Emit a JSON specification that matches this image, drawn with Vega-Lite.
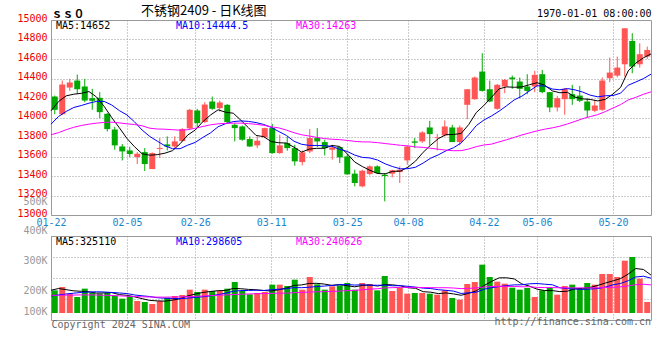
{
  "$schema": "https://vega.github.io/schema/vega-lite/v6.json",
  "padding": {"left": 16, "top": 4, "right": 6, "bottom": 6},
  "background": "white",
  "config": {
    "view": {"stroke": "#999999", "strokeWidth": 1},
    "font": "DejaVu Sans Mono",
    "axis": {"labelFont": "DejaVu Sans Mono", "labelFontSize": 10, "titleFont": "DejaVu Sans Mono", "titleFontSize": 10, "titleFontWeight": "normal", "gridColor": "#9a9a9a", "gridDash": [1, 2], "gridWidth": 1, "domain": false, "ticks": false, "tickSize": 0, "labelOverlap": false, "labelFlush": false},
    "legend": {"orient": "top-left", "direction": "horizontal", "title": null, "offset": 0, "padding": 1, "symbolSize": 0, "symbolStrokeWidth": 0, "symbolOpacity": 0, "labelFont": "DejaVu Sans Mono", "labelFontSize": 10, "labelOffset": -6, "gridAlign": "all", "labelLimit": 0}
  },
  "data": {"values": [
    {"date":"2024-01-22","open":14215,"high":14225,"low":14034,"close":14079,"volume":194300,"ma5":14069,"ma10":13932,"ma30":13823,"vma5":195000,"vma10":146000,"vma30":152000},
    {"date":"2024-01-23","open":14034,"high":14379,"low":14025,"close":14338,"volume":222800,"ma5":14164,"ma10":14011,"ma30":13845,"vma5":210000,"vma10":155000,"vma30":152000},
    {"date":"2024-01-24","open":14307,"high":14396,"low":14273,"close":14359,"volume":165700,"ma5":14222,"ma10":14062,"ma30":13875,"vma5":200000,"vma10":163000,"vma30":153000},
    {"date":"2024-01-25","open":14379,"high":14440,"low":14243,"close":14290,"volume":137100,"ma5":14239,"ma10":14103,"ma30":13900,"vma5":190000,"vma10":170000,"vma30":154000},
    {"date":"2024-01-26","open":14318,"high":14396,"low":14157,"close":14174,"volume":208600,"ma5":14248,"ma10":14123,"ma30":13918,"vma5":185700,"vma10":176000,"vma30":155000},
    {"date":"2024-01-29","open":14198,"high":14294,"low":14079,"close":14171,"volume":174300,"ma5":14266,"ma10":14147,"ma30":13932,"vma5":181700,"vma10":180000,"vma30":155000},
    {"date":"2024-01-30","open":14202,"high":14260,"low":13993,"close":14055,"volume":165700,"ma5":14210,"ma10":14165,"ma30":13942,"vma5":170300,"vma10":182000,"vma30":154000},
    {"date":"2024-01-31","open":14038,"high":14045,"low":13857,"close":13881,"volume":174300,"ma5":14114,"ma10":14165,"ma30":13950,"vma5":172000,"vma10":180000,"vma30":152000},
    {"date":"2024-02-01","open":13877,"high":13905,"low":13669,"close":13714,"volume":151400,"ma5":13999,"ma10":14128,"ma30":13952,"vma5":174900,"vma10":176000,"vma30":150000},
    {"date":"2024-02-02","open":13703,"high":13727,"low":13560,"close":13652,"volume":122900,"ma5":13895,"ma10":14071,"ma30":13945,"vma5":157700,"vma10":171700,"vma30":147000},
    {"date":"2024-02-05","open":13662,"high":13700,"low":13594,"close":13625,"volume":142900,"ma5":13785,"ma10":14026,"ma30":13935,"vma5":151400,"vma10":166600,"vma30":144000},
    {"date":"2024-02-06","open":13594,"high":13645,"low":13523,"close":13628,"volume":102900,"ma5":13700,"ma10":13955,"ma30":13928,"vma5":138900,"vma10":154600,"vma30":141000},
    {"date":"2024-02-07","open":13645,"high":13686,"low":13451,"close":13523,"volume":94300,"ma5":13628,"ma10":13871,"ma30":13915,"vma5":122900,"vma10":147400,"vma30":139000},
    {"date":"2024-02-08","open":13471,"high":13642,"low":13471,"close":13635,"volume":77100,"ma5":13613,"ma10":13806,"ma30":13890,"vma5":108000,"vma10":141400,"vma30":137000},
    {"date":"2024-02-19","open":13678,"high":13789,"low":13584,"close":13688,"volume":102900,"ma5":13619,"ma10":13757,"ma30":13882,"vma5":104000,"vma10":130900,"vma30":136000},
    {"date":"2024-02-20","open":13724,"high":13806,"low":13662,"close":13703,"volume":131400,"ma5":13634,"ma10":13710,"ma30":13880,"vma5":101700,"vma10":126600,"vma30":136000},
    {"date":"2024-02-21","open":13703,"high":13806,"low":13686,"close":13755,"volume":145700,"ma5":13660,"ma10":13680,"ma30":13875,"vma5":110300,"vma10":124600,"vma30":137000},
    {"date":"2024-02-22","open":13758,"high":13891,"low":13755,"close":13881,"volume":154300,"ma5":13731,"ma10":13680,"ma30":13870,"vma5":122300,"vma10":122600,"vma30":138000},
    {"date":"2024-02-23","open":13888,"high":14089,"low":13881,"close":14079,"volume":200000,"ma5":13820,"ma10":13716,"ma30":13875,"vma5":146900,"vma10":127400,"vma30":140000},
    {"date":"2024-02-26","open":14072,"high":14089,"low":13898,"close":13942,"volume":180000,"ma5":13872,"ma10":13745,"ma30":13890,"vma5":162300,"vma10":133200,"vma30":143000},
    {"date":"2024-02-27","open":13953,"high":14157,"low":13942,"close":14133,"volume":200000,"ma5":13958,"ma10":13796,"ma30":13908,"vma5":176000,"vma10":138900,"vma30":146000},
    {"date":"2024-02-28","open":14164,"high":14215,"low":14079,"close":14089,"volume":188600,"ma5":14025,"ma10":13842,"ma30":13925,"vma5":184600,"vma10":147400,"vma30":149000},
    {"date":"2024-02-29","open":14096,"high":14174,"low":14062,"close":14154,"volume":188600,"ma5":14079,"ma10":13905,"ma30":13935,"vma5":191400,"vma10":156900,"vma30":152000},
    {"date":"2024-03-01","open":14130,"high":14137,"low":13942,"close":13953,"volume":208600,"ma5":14054,"ma10":13937,"ma30":13940,"vma5":193200,"vma10":170000,"vma30":155000},
    {"date":"2024-03-04","open":13925,"high":13942,"low":13755,"close":13891,"volume":265700,"ma5":14044,"ma10":13958,"ma30":13942,"vma5":210300,"vma10":186300,"vma30":158000},
    {"date":"2024-03-05","open":13908,"high":13918,"low":13762,"close":13772,"volume":188600,"ma5":13972,"ma10":13965,"ma30":13942,"vma5":208000,"vma10":192000,"vma30":161000},
    {"date":"2024-03-06","open":13779,"high":13806,"low":13697,"close":13703,"volume":160000,"ma5":13895,"ma10":13960,"ma30":13937,"vma5":202300,"vma10":193400,"vma30":163000},
    {"date":"2024-03-07","open":13714,"high":13806,"low":13686,"close":13762,"volume":171400,"ma5":13816,"ma10":13948,"ma30":13930,"vma5":198900,"vma10":195200,"vma30":165000},
    {"date":"2024-03-08","open":13796,"high":13895,"low":13789,"close":13891,"volume":180000,"ma5":13804,"ma10":13929,"ma30":13920,"vma5":193100,"vma10":193200,"vma30":167000},
    {"date":"2024-03-11","open":13891,"high":13935,"low":13628,"close":13635,"volume":242900,"ma5":13753,"ma10":13898,"ma30":13905,"vma5":188600,"vma10":199400,"vma30":168100},
    {"date":"2024-03-12","open":13635,"high":13823,"low":13628,"close":13714,"volume":242900,"ma5":13741,"ma10":13856,"ma30":13893,"vma5":199400,"vma10":203700,"vma30":169700},
    {"date":"2024-03-13","open":13738,"high":13806,"low":13659,"close":13686,"volume":231400,"ma5":13738,"ma10":13816,"ma30":13871,"vma5":213700,"vma10":208000,"vma30":170000},
    {"date":"2024-03-14","open":13686,"high":13720,"low":13506,"close":13550,"volume":285700,"ma5":13695,"ma10":13756,"ma30":13844,"vma5":236600,"vma10":217700,"vma30":174000},
    {"date":"2024-03-15","open":13543,"high":13662,"low":13509,"close":13642,"volume":200000,"ma5":13645,"ma10":13725,"ma30":13823,"vma5":240600,"vma10":216900,"vma30":176100},
    {"date":"2024-03-18","open":13652,"high":13881,"low":13635,"close":13789,"volume":308600,"ma5":13676,"ma10":13714,"ma30":13810,"vma5":253700,"vma10":221200,"vma30":179400},
    {"date":"2024-03-19","open":13789,"high":13891,"low":13697,"close":13755,"volume":245700,"ma5":13684,"ma10":13713,"ma30":13796,"vma5":254300,"vma10":226900,"vma30":181800},
    {"date":"2024-03-20","open":13748,"high":13772,"low":13611,"close":13686,"volume":200000,"ma5":13684,"ma10":13711,"ma30":13784,"vma5":248000,"vma10":230900,"vma30":183000},
    {"date":"2024-03-21","open":13669,"high":13720,"low":13567,"close":13693,"volume":228600,"ma5":13713,"ma10":13704,"ma30":13777,"vma5":236600,"vma10":236600,"vma30":184800},
    {"date":"2024-03-22","open":13697,"high":13703,"low":13533,"close":13591,"volume":237100,"ma5":13703,"ma10":13674,"ma30":13773,"vma5":244000,"vma10":242300,"vma30":187600},
    {"date":"2024-03-25","open":13601,"high":13625,"low":13413,"close":13417,"volume":257100,"ma5":13628,"ma10":13652,"ma30":13765,"vma5":233700,"vma10":243700,"vma30":192100},
    {"date":"2024-03-26","open":13424,"high":13465,"low":13294,"close":13328,"volume":200000,"ma5":13543,"ma10":13614,"ma30":13755,"vma5":224600,"vma10":239400,"vma30":194000},
    {"date":"2024-03-27","open":13294,"high":13465,"low":13284,"close":13454,"volume":257100,"ma5":13497,"ma10":13591,"ma30":13750,"vma5":236000,"vma10":242000,"vma30":199100},
    {"date":"2024-03-28","open":13420,"high":13509,"low":13407,"close":13499,"volume":248600,"ma5":13458,"ma10":13585,"ma30":13749,"vma5":240000,"vma10":238300,"vma30":204300},
    {"date":"2024-03-29","open":13499,"high":13509,"low":13420,"close":13430,"volume":194300,"ma5":13426,"ma10":13564,"ma30":13742,"vma5":231400,"vma10":237700,"vma30":208200},
    {"date":"2024-04-01","open":13413,"high":13430,"low":13140,"close":13400,"volume":317100,"ma5":13422,"ma10":13525,"ma30":13733,"vma5":243400,"vma10":238600,"vma30":215300},
    {"date":"2024-04-02","open":13424,"high":13465,"low":13386,"close":13458,"volume":188600,"ma5":13448,"ma10":13496,"ma30":13724,"vma5":241100,"vma10":232900,"vma30":217200},
    {"date":"2024-04-03","open":13441,"high":13499,"low":13328,"close":13465,"volume":217100,"ma5":13450,"ma10":13474,"ma30":13715,"vma5":233100,"vma10":234600,"vma30":219600},
    {"date":"2024-04-08","open":13560,"high":13710,"low":13516,"close":13703,"volume":165700,"ma5":13491,"ma10":13475,"ma30":13709,"vma5":216600,"vma10":228300,"vma30":220000},
    {"date":"2024-04-09","open":13755,"high":13789,"low":13686,"close":13741,"volume":171400,"ma5":13553,"ma10":13490,"ma30":13698,"vma5":212000,"vma10":221700,"vma30":219000},
    {"date":"2024-04-10","open":13755,"high":13860,"low":13740,"close":13847,"volume":171400,"ma5":13643,"ma10":13533,"ma30":13694,"vma5":182800,"vma10":213100,"vma30":218800},
    {"date":"2024-04-11","open":13898,"high":13966,"low":13714,"close":13830,"volume":165700,"ma5":13717,"ma10":13583,"ma30":13684,"vma5":178300,"vma10":209700,"vma30":217600},
    {"date":"2024-04-12","open":13789,"high":13830,"low":13662,"close":13796,"volume":157100,"ma5":13783,"ma10":13617,"ma30":13675,"vma5":166300,"vma10":199700,"vma30":216600},
    {"date":"2024-04-15","open":13816,"high":13970,"low":13806,"close":13908,"volume":194300,"ma5":13824,"ma10":13658,"ma30":13666,"vma5":172000,"vma10":194300,"vma30":216800},
    {"date":"2024-04-16","open":13898,"high":13925,"low":13748,"close":13748,"volume":128600,"ma5":13826,"ma10":13690,"ma30":13659,"vma5":163400,"vma10":187700,"vma30":214100},
    {"date":"2024-04-17","open":13748,"high":13918,"low":13714,"close":13898,"volume":114300,"ma5":13836,"ma10":13739,"ma30":13660,"vma5":152000,"vma10":167400,"vma30":209000},
    {"date":"2024-04-18","open":14130,"high":14290,"low":13983,"close":14290,"volume":248600,"ma5":13928,"ma10":13823,"ma30":13677,"vma5":168600,"vma10":173400,"vma30":211000},
    {"date":"2024-04-19","open":14188,"high":14420,"low":14181,"close":14410,"volume":265700,"ma5":14051,"ma10":13917,"ma30":13701,"vma5":190300,"vma10":178300,"vma30":214600},
    {"date":"2024-04-22","open":14471,"high":14659,"low":14266,"close":14273,"volume":414300,"ma5":14124,"ma10":13974,"ma30":13718,"vma5":234300,"vma10":203100,"vma30":222700},
    {"date":"2024-04-23","open":14290,"high":14379,"low":14157,"close":14164,"volume":308600,"ma5":14207,"ma10":14016,"ma30":13727,"vma5":270300,"vma10":216900,"vma30":227000},
    {"date":"2024-04-24","open":14089,"high":14345,"low":14079,"close":14335,"volume":268600,"ma5":14294,"ma10":14065,"ma30":13750,"vma5":301200,"vma10":226600,"vma30":227800},
    {"date":"2024-04-25","open":14318,"high":14396,"low":14249,"close":14386,"volume":251400,"ma5":14314,"ma10":14121,"ma30":13772,"vma5":301700,"vma10":235200,"vma30":228100},
    {"date":"2024-04-26","open":14410,"high":14430,"low":14294,"close":14393,"volume":217100,"ma5":14310,"ma10":14181,"ma30":13796,"vma5":292000,"vma10":241200,"vma30":227600},
    {"date":"2024-04-29","open":14369,"high":14410,"low":14198,"close":14294,"volume":200000,"ma5":14314,"ma10":14219,"ma30":13821,"vma5":249100,"vma10":241700,"vma30":224800},
    {"date":"2024-04-30","open":14318,"high":14444,"low":14239,"close":14273,"volume":214300,"ma5":14336,"ma10":14272,"ma30":13842,"vma5":230300,"vma10":250300,"vma30":225200},
    {"date":"2024-05-06","open":14318,"high":14478,"low":14260,"close":14437,"volume":137100,"ma5":14357,"ma10":14326,"ma30":13863,"vma5":204000,"vma10":252600,"vma30":219500},
    {"date":"2024-05-07","open":14444,"high":14488,"low":14249,"close":14260,"volume":194300,"ma5":14331,"ma10":14323,"ma30":13880,"vma5":192600,"vma10":247100,"vma30":217800},
    {"date":"2024-05-08","open":14260,"high":14262,"low":14055,"close":14103,"volume":214300,"ma5":14273,"ma10":14292,"ma30":13894,"vma5":192000,"vma10":242000,"vma30":218300},
    {"date":"2024-05-09","open":14103,"high":14222,"low":14062,"close":14198,"volume":157100,"ma5":14254,"ma10":14284,"ma30":13911,"vma5":183400,"vma10":216300,"vma30":215900},
    {"date":"2024-05-10","open":14188,"high":14301,"low":14028,"close":14294,"volume":231400,"ma5":14258,"ma10":14297,"ma30":13934,"vma5":186800,"vma10":208600,"vma30":215700},
    {"date":"2024-05-13","open":14239,"high":14335,"low":14130,"close":14188,"volume":242900,"ma5":14209,"ma10":14283,"ma30":13960,"vma5":208000,"vma10":206000,"vma30":215200},
    {"date":"2024-05-14","open":14225,"high":14324,"low":14157,"close":14171,"volume":208600,"ma5":14191,"ma10":14261,"ma30":13988,"vma5":210900,"vma10":201700,"vma30":215500},
    {"date":"2024-05-15","open":14164,"high":14198,"low":14000,"close":14072,"volume":257100,"ma5":14185,"ma10":14229,"ma30":14009,"vma5":219400,"vma10":205700,"vma30":215500},
    {"date":"2024-05-16","open":14069,"high":14181,"low":14055,"close":14123,"volume":242900,"ma5":14170,"ma10":14212,"ma30":14030,"vma5":236600,"vma10":210000,"vma30":215300},
    {"date":"2024-05-17","open":14079,"high":14410,"low":14069,"close":14379,"volume":334300,"ma5":14187,"ma10":14223,"ma30":14061,"vma5":257200,"vma10":222000,"vma30":220000},
    {"date":"2024-05-20","open":14403,"high":14614,"low":14362,"close":14461,"volume":334300,"ma5":14241,"ma10":14225,"ma30":14097,"vma5":275400,"vma10":241700,"vma30":220600},
    {"date":"2024-05-21","open":14430,"high":14625,"low":14413,"close":14512,"volume":308600,"ma5":14309,"ma10":14250,"ma30":14132,"vma5":295400,"vma10":253200,"vma30":224600},
    {"date":"2024-05-22","open":14546,"high":14915,"low":14420,"close":14915,"volume":448600,"ma5":14478,"ma10":14331,"ma30":14180,"vma5":333700,"vma10":276600,"vma30":232300},
    {"date":"2024-05-23","open":14785,"high":14864,"low":14454,"close":14522,"volume":480000,"ma5":14558,"ma10":14364,"ma30":14207,"vma5":381200,"vma10":308900,"vma30":242800},
    {"date":"2024-05-24","open":14546,"high":14761,"low":14512,"close":14649,"volume":294300,"ma5":14612,"ma10":14399,"ma30":14238,"vma5":373200,"vma10":315200,"vma30":246900},
    {"date":"2024-05-27","open":14625,"high":14727,"low":14601,"close":14693,"volume":94300,"ma5":14652,"ma10":14444.5,"ma30":14263,"vma5":325110,"vma10":298605,"vma30":240626}
  ]},
  "spacing": 21,
  "bounds": "flush",
  "resolve": {"scale": {"color": "independent", "x": "independent", "y": "independent"}, "legend": {"color": "independent"}},
  "vconcat": [
    {
      "width": 600,
      "height": 195,
      "title": {"text": "不锈钢2409 - 日K线图", "anchor": "start", "frame": "group", "dx": 90, "offset": -10, "font": "Noto Sans CJK SC", "fontSize": 13, "fontWeight": "normal", "color": "#000000"},
      "resolve": {"scale": {"x": "independent"}, "axis": {"x": "independent"}},
      "layer": [
        {
          "mark": {"type": "rule", "strokeWidth": 1},
          "encoding": {
            "x": {"field": "date", "type": "ordinal", "scale": {"type": "band", "paddingInner": 0.2, "paddingOuter": 0.1},
                  "axis": {"orient": "top", "labels": false, "grid": false, "title": "1970-01-01 08:00:00", "titleX": 600, "titleY": -7, "titleAlign": "right", "titleBaseline": "middle", "titleColor": "#000000", "titleFontSize": 10}},
            "y": {"field": "low", "type": "quantitative", "scale": {"domain": [13000, 15000], "nice": false, "zero": false},
                  "axis": {"orient": "left", "values": [13000, 13200, 13400, 13600, 13800, 14000, 14200, 14400, 14600, 14800, 15000], "tickCount": 30, "format": "d", "labelOverlap": false, "labelColor": "#ee0000", "labelPadding": 4, "labelOffset": -2, "grid": true,
                           "title": "ｓｓ０", "titleAngle": 0, "titleX": 0, "titleY": -6, "titleAlign": "left", "titleBaseline": "middle", "titleFont": "Noto Sans CJK SC", "titleFontWeight": "bold", "titleFontSize": 11, "titleColor": "#000000"}},
            "y2": {"field": "high"},
            "color": {"condition": {"test": "datum.close >= datum.open", "value": "#ff5555"}, "value": "#00a800"}
          }
        },
        {
          "mark": {"type": "bar"},
          "encoding": {
            "x": {"field": "date", "type": "ordinal", "scale": {"type": "band", "paddingInner": 0.2, "paddingOuter": 0.1}, "axis": null},
            "y": {"field": "open", "type": "quantitative", "scale": {"domain": [13000, 15000], "nice": false, "zero": false}},
            "y2": {"field": "close"},
            "color": {"condition": {"test": "datum.close >= datum.open", "value": "#ff5555"}, "value": "#00a800"}
          }
        },
        {
          "transform": [{"fold": ["ma5", "ma10", "ma30"], "as": ["series", "value"]}],
          "mark": {"type": "line", "strokeWidth": 1},
          "encoding": {
            "x": {"field": "date", "type": "ordinal", "scale": {"type": "point", "padding": 0},
                  "axis": {"orient": "bottom", "values": ["2024-01-22", "2024-02-05", "2024-02-26", "2024-03-11", "2024-03-25", "2024-04-08", "2024-04-22", "2024-05-06", "2024-05-20"], "labelExpr": "slice(datum.label, 5)", "labelColor": "#1a86d0", "labelAngle": 0, "labelPadding": 2, "grid": true, "title": null}},
            "y": {"field": "value", "type": "quantitative", "scale": {"domain": [13000, 15000], "nice": false, "zero": false}},
            "color": {"field": "series", "type": "nominal", "scale": {"domain": ["ma5", "ma10", "ma30"], "range": ["#000000", "#0000ff", "#ff00ff"]},
                      "legend": {"columnPadding": 43,
                                 "labelExpr": "datum.value == 'ma5' ? 'MA5:14652' : datum.value == 'ma10' ? 'MA10:14444.5' : 'MA30:14263'",
                                 "labelColor": {"expr": "datum.value == 'ma5' ? '#000000' : datum.value == 'ma10' ? '#0000ff' : '#ff00ff'"}}}
          }
        }
      ]
    },
    {
      "width": 600,
      "height": 84,
      "title": {"text": "http://finance.sina.com.cn", "orient": "bottom", "anchor": "end", "frame": "group", "offset": -12, "font": "DejaVu Sans Mono", "fontSize": 10, "fontWeight": "normal", "color": "#666666"},
      "resolve": {"scale": {"x": "independent", "y": "independent"}, "axis": {"x": "independent", "y": "independent"}},
      "layer": [
        {
          "mark": {"type": "bar"},
          "encoding": {
            "x": {"field": "date", "type": "ordinal", "scale": {"type": "band", "paddingInner": 0.2, "paddingOuter": 0.1}, "axis": null},
            "y": {"field": "volume", "type": "quantitative", "scale": {"domain": [-60000, 660000], "nice": false},
                  "axis": {"orient": "left", "values": [0, 174000, 437000, 642000, 655000], "tickCount": 30, "grid": false, "labelColor": "#999999", "labelPadding": 4, "title": null, "labelOverlap": false,
                           "labelExpr": "datum.value < 100000 ? '100K' : datum.value < 300000 ? '200K' : datum.value < 500000 ? '300K' : datum.value < 650000 ? '400K' : '500K'",
                           "labelOffset": {"condition": [{"test": "datum.value > 650000", "value": -35}, {"test": "datum.value > 600000", "value": -8}], "value": -2}}},
            "y2": {"datum": 0},
            "color": {"condition": {"test": "datum.close >= datum.open", "value": "#ff5555"}, "value": "#00a800"}
          }
        },
        {
          "transform": [{"fold": ["vma5", "vma10", "vma30"], "as": ["series", "value"]}],
          "mark": {"type": "line", "strokeWidth": 1},
          "encoding": {
            "x": {"field": "date", "type": "ordinal", "scale": {"type": "point", "padding": 0},
                  "axis": {"orient": "bottom", "values": ["2024-01-22", "2024-02-05", "2024-02-26", "2024-03-11", "2024-03-25", "2024-04-08", "2024-04-22", "2024-05-06", "2024-05-20"], "labels": false, "grid": true,
                           "title": "Copyright 2024 SINA.COM", "titleX": 0, "titleY": 4, "titleAlign": "left", "titleBaseline": "middle", "titleColor": "#666666"}},
            "y": {"field": "value", "type": "quantitative", "scale": {"domain": [-60000, 660000], "nice": false},
                  "axis": {"orient": "right", "values": [120000, 300000, 480000], "tickCount": 30, "labels": false, "grid": true, "title": null}},
            "color": {"field": "series", "type": "nominal", "scale": {"domain": ["vma5", "vma10", "vma30"], "range": ["#000000", "#0000ff", "#ff00ff"]},
                      "legend": {"columnPadding": 49,
                                 "labelExpr": "datum.value == 'vma5' ? 'MA5:325110' : datum.value == 'vma10' ? 'MA10:298605' : 'MA30:240626'",
                                 "labelColor": {"expr": "datum.value == 'vma5' ? '#000000' : datum.value == 'vma10' ? '#0000ff' : '#ff00ff'"}}}
          }
        }
      ]
    }
  ]
}
